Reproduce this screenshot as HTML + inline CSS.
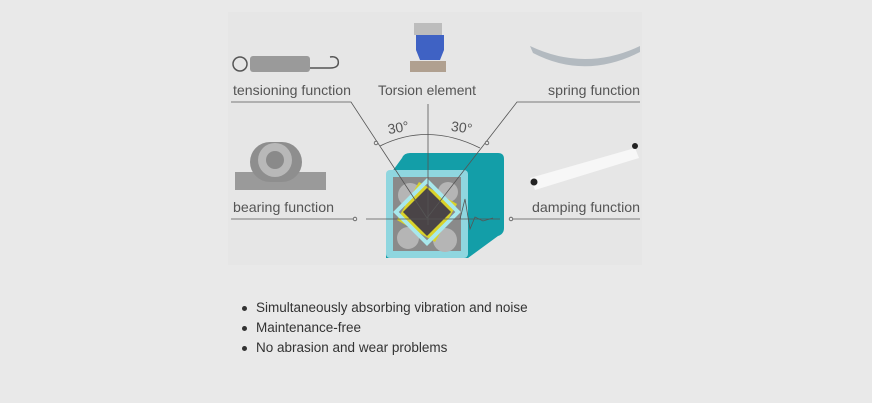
<!DOCTYPE html>
<html><head><style>
body{margin:0;width:872px;height:403px;background:#e9e9e9;font-family:"Liberation Sans",sans-serif;overflow:hidden}
svg{position:absolute;left:0;top:0}
ul{position:absolute;left:238px;top:298px;margin:0;padding:0;list-style:none;font-size:13.5px;color:#333}
li{height:20px;line-height:20px;position:relative;padding-left:18px}
li:before{content:"";position:absolute;left:4px;top:8px;width:5px;height:5px;border-radius:50%;background:#333}
</style></head><body>
<svg width="872" height="403">
<rect x="228" y="12" width="414" height="253" fill="#e6e6e6"/>
<g font-family="Liberation Sans,sans-serif" font-size="14" fill="#555">
<text x="233" y="95" textLength="118" lengthAdjust="spacingAndGlyphs">tensioning function</text>
<text x="378" y="95" textLength="98" lengthAdjust="spacingAndGlyphs">Torsion element</text>
<text x="548" y="95" textLength="92" lengthAdjust="spacingAndGlyphs">spring function</text>
<text x="233" y="212" textLength="101" lengthAdjust="spacingAndGlyphs">bearing function</text>
<text x="532" y="212" textLength="108" lengthAdjust="spacingAndGlyphs">damping function</text>
<text x="388" y="133" transform="rotate(-10 395 130)">30°</text>
<text x="451" y="132" transform="rotate(8 460 128)">30°</text>
</g>
<!-- cube -->
<path d="M386 180 L402 158 Q404 153 410 153 L498 153 Q504 153 504 159 L504 228 Q504 234 498 236 L468 258 L386 258 Z" fill="#139ea8"/>
<rect x="386" y="170" width="82" height="88" rx="4" fill="#8fd6df"/>
<rect x="393" y="177" width="68" height="74" fill="#8a8a8a"/>
<circle cx="410" cy="195" r="12" fill="#b5b5b5"/><circle cx="445" cy="240" r="12" fill="#b5b5b5"/><circle cx="408" cy="238" r="11" fill="#b5b5b5"/><circle cx="448" cy="192" r="10" fill="#b5b5b5"/>
<rect x="405" y="190" width="44" height="44" fill="#d9d22a" transform="rotate(30 427 212)"/>
<rect x="405" y="190" width="44" height="44" fill="none" stroke="#a8e8ec" stroke-width="4" transform="rotate(45 427 212)"/>
<rect x="410" y="195" width="34" height="34" fill="#4a4447" transform="rotate(45 427 212)"/>
<!-- lines -->
<g stroke="#555" stroke-width="0.8" fill="none">
<path d="M231 102 H351 L427 218"/>
<path d="M640 102 H517 L427 218"/>
<path d="M428 104 V225"/>
<path d="M231 219 H355"/><path d="M366 219 H500"/><path d="M511 219 H640"/>
<path d="M380 146 Q428 122 480 148"/>
<path d="M460 219 l5 -20 l5 30 l5 -12 l8 4 l10 -3"/>
</g>
<g fill="#e6e6e6" stroke="#555" stroke-width="0.8">
<circle cx="376" cy="143" r="1.8"/><circle cx="487" cy="143" r="1.8"/><circle cx="355" cy="219" r="1.8"/><circle cx="511" cy="219" r="1.8"/>
</g>
<!-- spring -->
<circle cx="240" cy="64" r="7" fill="none" stroke="#555" stroke-width="1.5"/>
<rect x="250" y="56" width="60" height="16" rx="3" fill="#9a9a9a"/>
<path d="M310 68 H330 Q340 68 338 60 Q336 56 330 57" fill="none" stroke="#555" stroke-width="1.5"/>
<!-- torsion element -->
<rect x="414" y="23" width="28" height="12" fill="#bdbdbd"/>
<path d="M416 35 H444 V50 L440 60 H420 L416 50Z" fill="#3f62c4"/>
<rect x="410" y="61" width="36" height="11" fill="#b0a090"/>
<!-- leaf spring -->
<path d="M530 46 Q585 72 640 46 L640 52 Q585 80 533 53Z" fill="#b3bac0"/>
<!-- bearing -->
<path d="M235 172 H326 V190 H235Z" fill="#9a9a9a"/>
<rect x="250" y="142" width="52" height="40" rx="20" fill="#8e8e8e"/>
<circle cx="275" cy="160" r="17" fill="#b8b8b8"/><circle cx="275" cy="160" r="9" fill="#8a8a8a"/>
<!-- damper -->
<path d="M530 178 L635 148 L639 158 L535 190Z" fill="#f7f7f7"/>
<circle cx="534" cy="182" r="3.5" fill="#222"/><circle cx="635" cy="146" r="3" fill="#222"/>
</svg>
<ul>
<li>Simultaneously absorbing vibration and noise</li>
<li>Maintenance-free</li>
<li>No abrasion and wear problems</li>
</ul>
</body></html>
